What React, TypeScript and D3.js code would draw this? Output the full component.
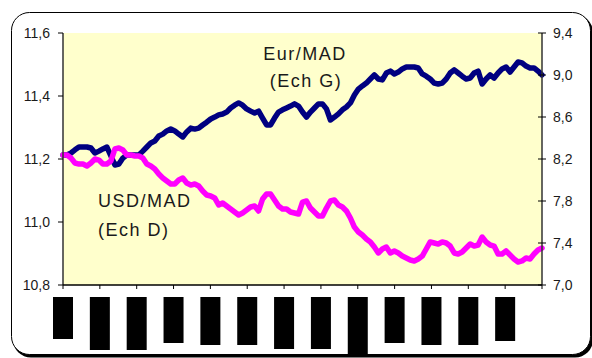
import React from "react";
import * as d3 from "d3";

// Eur/MAD (left axis, "Ech G")
const eurMad: number[] = [
  11.213, 11.213, 11.219, 11.229, 11.238, 11.238, 11.238, 11.235, 11.219, 11.225,
  11.232, 11.238, 11.210, 11.181, 11.184, 11.203, 11.213, 11.213, 11.213, 11.213,
  11.225, 11.238, 11.251, 11.257, 11.273, 11.279, 11.289, 11.295, 11.289, 11.279,
  11.270, 11.286, 11.298, 11.295, 11.298, 11.308, 11.317, 11.327, 11.333, 11.340,
  11.343, 11.349, 11.362, 11.371, 11.378, 11.371, 11.359, 11.352, 11.346, 11.352,
  11.330, 11.308, 11.308, 11.330, 11.349, 11.356, 11.362, 11.368, 11.375, 11.368,
  11.349, 11.333, 11.349, 11.362, 11.375, 11.375, 11.359, 11.324, 11.333, 11.343,
  11.356, 11.365, 11.378, 11.403, 11.422, 11.432, 11.441, 11.454, 11.467, 11.454,
  11.451, 11.473, 11.479, 11.470, 11.476, 11.486, 11.492, 11.492, 11.492, 11.489,
  11.470, 11.463, 11.454, 11.441, 11.438, 11.441, 11.454, 11.473, 11.483, 11.473,
  11.463, 11.454, 11.457, 11.473, 11.479, 11.438, 11.454, 11.467, 11.457, 11.473,
  11.486, 11.492, 11.476, 11.492, 11.508, 11.505, 11.495, 11.489, 11.489, 11.479,
  11.467,
];

// USD/MAD (right axis, "Ech D")
const usdMad: number[] = [
  8.238, 8.238, 8.210, 8.162, 8.152, 8.152, 8.133, 8.162, 8.200, 8.190,
  8.152, 8.152, 8.181, 8.295, 8.305, 8.286, 8.238, 8.238, 8.229, 8.229,
  8.210, 8.152, 8.133, 8.105, 8.057, 8.019, 7.990, 7.962, 7.962, 8.000,
  8.019, 7.971, 7.952, 7.962, 7.943, 7.895, 7.857, 7.848, 7.829, 7.762,
  7.781, 7.752, 7.724, 7.695, 7.667, 7.686, 7.714, 7.743, 7.752, 7.705,
  7.819, 7.867, 7.867, 7.810, 7.752, 7.724, 7.724, 7.695, 7.686, 7.676,
  7.790, 7.800, 7.733, 7.695, 7.657, 7.657, 7.733, 7.800, 7.810, 7.762,
  7.743, 7.705, 7.638, 7.552, 7.505, 7.476, 7.438, 7.410, 7.362, 7.305,
  7.343, 7.362, 7.305, 7.324, 7.305, 7.276, 7.257, 7.238, 7.229, 7.248,
  7.276, 7.343, 7.410, 7.400, 7.390, 7.410, 7.400, 7.371, 7.305, 7.295,
  7.314, 7.352, 7.390, 7.371, 7.381, 7.457, 7.410, 7.381, 7.371, 7.295,
  7.295, 7.324, 7.286, 7.248, 7.219, 7.229, 7.257, 7.248, 7.295, 7.333,
  7.352,
];

const leftTicks: number[] = [10.8, 11.0, 11.2, 11.4, 11.6];
const rightTicks: number[] = [7.0, 7.4, 7.8, 8.2, 8.6, 9.0, 9.4];
// 13 periods on the x axis; their labels are masked by black boxes in the source
const periods: number[] = d3.range(14);
const maskHeights: number[] = [42, 53, 53, 46, 48, 48, 52, 52, 57, 46, 48, 48, 44];

const W = 592;
const H = 358;
const plot = { left: 63, right: 542, top: 33, bottom: 285 };

const fmt = (v: number) => v.toFixed(1).replace(".", ",");

export default function App() {
  const xPeriod = d3.scaleLinear().domain([0, 13]).range([plot.left, plot.right]);
  const xIdx = d3.scaleLinear().domain([0, eurMad.length - 1]).range([plot.left, plot.right]);
  const yL = d3.scaleLinear().domain([10.8, 11.6]).range([plot.bottom, plot.top]);
  const yR = d3.scaleLinear().domain([7.0, 9.4]).range([plot.bottom, plot.top]);

  const lineL = d3
    .line<number>()
    .x((_, i) => xIdx(i))
    .y((d) => yL(d));
  const lineR = d3
    .line<number>()
    .x((_, i) => xIdx(i))
    .y((d) => yR(d));

  const font = "'Liberation Sans', Arial, sans-serif";
  const textColor = "#1a1a1a";

  return (
    <svg
      width={W}
      height={H}
      style={{ position: "fixed", left: 0, top: 0, background: "#fff" }}
      fontFamily={font}
    >
      {/* frame with shadow */}
      <rect x={13} y={14.5} width={580} height={343} rx={18} fill="#000" />
      <rect x={11.5} y={12.5} width={579} height={342} rx={18} fill="#fff" stroke="#000" strokeWidth={1} />

      {/* plot background */}
      <rect
        x={plot.left}
        y={plot.top}
        width={plot.right - plot.left}
        height={plot.bottom - plot.top}
        fill="#FFFFCC"
      />

      {/* series */}
      <path
        d={lineL(eurMad) || ""}
        fill="none"
        stroke="#000080"
        strokeWidth={5.5}
        strokeLinejoin="round"
        strokeLinecap="round"
      />
      <path
        d={lineR(usdMad) || ""}
        fill="none"
        stroke="#FF00FF"
        strokeWidth={5.5}
        strokeLinejoin="round"
        strokeLinecap="round"
      />

      {/* axes */}
      <line x1={plot.left} x2={plot.left} y1={plot.top} y2={plot.bottom} stroke="#333" strokeWidth={1.5} />
      <line x1={plot.right} x2={plot.right} y1={plot.top} y2={plot.bottom} stroke="#333" strokeWidth={1.5} />
      <line x1={plot.left} x2={plot.right} y1={plot.bottom} y2={plot.bottom} stroke="#000" strokeWidth={1.5} />

      {leftTicks.map((t) => (
        <g key={"l" + t}>
          <line x1={plot.left - 5} x2={plot.left} y1={yL(t)} y2={yL(t)} stroke="#000" strokeWidth={1} />
          <text x={plot.left - 13} y={yL(t) + 5} textAnchor="end" fontSize={14} fill={textColor}>
            {fmt(t)}
          </text>
        </g>
      ))}

      {rightTicks.map((t) => (
        <g key={"r" + t}>
          <line x1={plot.right - 4} x2={plot.right + 4} y1={yR(t)} y2={yR(t)} stroke="#000" strokeWidth={1} />
          <text x={plot.right + 11} y={yR(t) + 5} textAnchor="start" fontSize={14} fill={textColor}>
            {fmt(t)}
          </text>
        </g>
      ))}

      {periods.map((p) => (
        <line
          key={"x" + p}
          x1={xPeriod(p)}
          x2={xPeriod(p)}
          y1={plot.bottom}
          y2={plot.bottom + 4}
          stroke="#000"
          strokeWidth={1}
        />
      ))}

      {/* masked x labels */}
      {maskHeights.map((h, i) => (
        <rect key={"m" + i} x={xPeriod(i) - 10} y={297} width={20} height={h} fill="#000" />
      ))}

      {/* series labels */}
      <g fontSize={18} fill={textColor} letterSpacing={1.5}>
        <text x={305} y={60} textAnchor="middle">Eur/MAD</text>
        <text x={306} y={87} textAnchor="middle">(Ech G)</text>
        <text x={98} y={207}>USD/MAD</text>
        <text x={98} y={236}>(Ech D)</text>
      </g>
    </svg>
  );
}
